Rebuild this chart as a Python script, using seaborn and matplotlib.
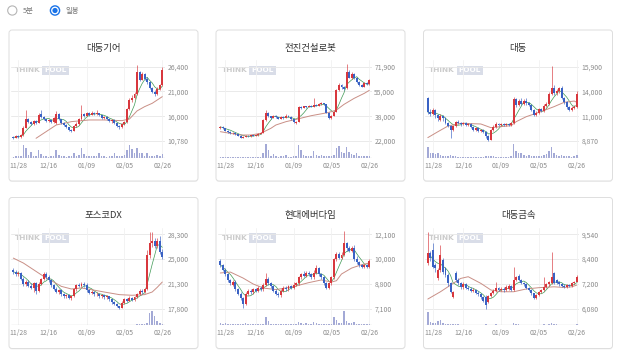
import numpy as np
import pandas as pd
import matplotlib
matplotlib.use("Agg")
import matplotlib.pyplot as plt
from matplotlib.patches import FancyBboxPatch, Circle
import seaborn as sns

sns.set_theme(style="white")
plt.rcParams['font.family'] = ['Noto Sans CJK KR', 'DejaVu Sans']

# ---------------- data ----------------
titles = ["대동기어", "전진건설로봇", "대동", "포스코DX", "현대에버다임", "대동금속"]
date_labels = ["11/28", "12/16", "01/09", "02/05", "02/26"]
date_pos = [2, 14, 29, 44, 59]

ylabels = [
    ["26,400", "21,000", "16,000", "10,780"],
    ["71,900", "55,000", "38,000", "22,000"],
    ["15,900", "14,000", "11,000", "8,870"],
    ["28,300", "25,000", "21,300", "17,800"],
    ["12,100", "10,000", "8,800", "7,100"],
    ["9,540", "8,400", "7,200", "6,080"],
]

# 대동기어
p1_open = [11700,11500,11800,11600,12000,13600,15300,14700,14300,14900,14600,16500,15900,15300,15000,15200,14700,14600,16500,15400,
           14600,14200,13700,13100,12900,13900,14400,15300,16500,16100,16600,16300,16700,16400,16600,16200,15700,15900,15300,14900,
           15200,14500,14000,13700,14300,14700,17500,19300,19800,20600,25300,23700,24800,23900,23200,22000,21100,20600,21800,22500]
p1_close = [11500,11800,11600,12000,13600,15300,14700,14300,14900,14600,16300,15900,15300,15000,15200,14700,15600,16500,15400,14600,
            14200,13700,13100,12900,13900,14400,15300,16500,16100,16600,16300,16700,16400,16600,16200,15700,15900,15300,14900,15200,
            14500,14000,13700,14300,14700,17500,19300,19800,20600,25300,23700,24800,23900,23200,22000,21100,20600,21800,22500,25800]
p1_high = [11900,12000,12000,12200,13900,17300,15600,15000,15100,15200,16600,17300,16000,15500,15400,15300,15800,17100,16600,15500,
           14800,14300,13800,13300,14100,14700,15600,18300,16700,16900,16800,17000,16900,17200,16700,16300,16100,16000,15400,15400,
           15300,14600,14100,14600,14900,17800,19800,20400,21000,26700,25500,25200,25000,24200,23400,22200,21400,22100,22800,26400]
p1_low = [11300,11400,11400,11500,11900,13500,14500,14100,14100,14400,14500,15700,15100,14800,14700,14500,14500,14400,15200,14400,
          14000,13500,12900,12600,12800,13700,14200,15100,15900,16000,16100,16200,16200,16200,16000,15500,15500,15100,14700,14600,
          14300,13800,13400,13500,14100,14600,17300,19000,19600,20400,23400,23500,23600,22800,21800,20800,20300,20500,21400,22300]
p1_vol = [.08,.1,.12,.1,.9,.65,.2,.4,.15,.12,.5,.25,.12,.1,.08,.1,.15,.5,.2,.12,
          .1,.08,.1,.12,.3,.15,.2,.7,.25,.12,.1,.12,.1,.15,.35,.12,.1,.08,.1,.12,
          .3,.15,.12,.1,.2,.5,.9,.6,.3,.7,.35,.3,.15,.3,.12,.1,.12,.2,.15,.25]
p1_ma_idx = [9,13,17,23,30,36,43,46,49,52,55,59]
p1_ma = [11350,12750,14150,14850,15200,15200,15060,15400,17100,18000,18700,20100]

# 전진건설로봇
p2_open = [30500,31500,30500,29000,28000,27200,27600,26500,25600,24300,24800,25500,25100,25800,25400,25800,26800,27500,36000,41000,
           38500,37600,38800,37800,37000,38200,37500,39000,38300,36500,34000,35000,45000,44200,45200,44800,45600,45000,46500,45800,
           46800,47500,46600,41000,37500,38800,41500,56000,59500,58000,57500,68500,64500,67000,64500,61500,59800,58500,60800,60000]
p2_close = [31500,30500,29000,28000,27200,27600,26500,25600,24300,24800,25500,25100,25800,25400,26200,26800,27500,36000,41000,38500,
            37600,38800,37800,37000,38200,37500,39000,38300,36500,34500,35000,45000,44200,45200,44800,45600,45000,46500,45800,46800,
            47500,46600,41000,37500,38800,41500,56000,59500,58000,57000,68500,64500,67000,64500,61500,59800,58500,60800,60000,62800]
p2_high = [32300,32000,30800,29300,28400,28000,27800,26800,25800,25200,25900,25800,26200,26100,26600,27400,28000,36800,42500,41500,
           39000,39500,39200,38200,38700,38600,39800,39400,38500,36800,35500,45800,45800,45800,45600,46200,46000,50600,47000,47300,
           48000,47800,46800,41300,39300,42000,57000,61000,60200,58800,73500,69500,68500,67500,65000,62200,60500,61500,61800,63500]
p2_low = [30000,30200,28600,27600,26800,26900,26100,25200,23900,23700,24500,24800,24900,25100,25200,25600,26500,27300,35500,38000,
          37000,37300,37400,36500,36800,37000,37200,37900,36000,34000,33500,34800,43800,43900,44300,44500,44600,44800,45400,45500,
          46300,46200,40500,37000,37000,38500,41200,55500,57200,56500,57000,64000,63800,63500,61000,59200,58000,58200,59500,59800]
p2_vol = [.06,.07,.05,.05,.06,.05,.04,.05,.06,.05,.05,.04,.05,.04,.05,.06,.08,.3,.95,.5,
          .15,.25,.1,.08,.15,.1,.2,.08,.07,.1,.15,.85,.55,.2,.12,.1,.15,.45,.2,.12,
          .2,.1,.15,.12,.1,.2,.7,.8,.4,.3,.75,.4,.25,.2,.3,.15,.12,.1,.15,.12]
p2_ma_idx = [0,4,8,12,16,20,22,26,30,36,41,43,46,49,53,57,59]
p2_ma = [28260,27140,26020,26020,27140,30500,32740,34980,36540,39000,40570,41240,42810,46610,50640,53990,56010]

# 대동
p3_open = [12900,11600,11400,11800,11300,10900,11200,11000,10600,10300,9900,10300,10700,10600,10500,10600,10400,10500,10200,9900,
           10100,9800,9900,9700,9300,9000,9900,10200,10500,10400,10500,10400,10500,10400,10600,12800,12300,12700,12400,12700,
           12500,12300,11800,11300,11500,11900,11700,12200,12400,13300,13900,13400,13600,13900,12900,12600,12100,11800,12000,12100]
p3_close = [11600,11400,11800,11300,11000,11200,11000,10600,10300,9900,10300,10700,10600,10500,10600,10400,10500,10200,9900,10100,
            9800,9900,9700,9300,9000,9900,10200,10500,10400,10500,10400,10500,10400,10600,12800,12300,12700,12400,12700,12500,
            12300,11800,11300,11500,11900,11700,12200,12400,13300,13900,13400,13600,13900,12900,12600,12100,11800,12000,12100,13300]
p3_high = [13000,11900,12000,11900,11400,11400,11300,11100,10700,10400,10400,10800,10900,10700,10700,10700,10600,10600,10300,10200,
           10200,10000,10000,9800,9400,10000,10400,10700,10600,10600,10600,10600,10600,10700,13000,12900,12800,12900,12800,12900,
           12600,12400,11900,11700,12000,12000,12400,12600,13500,16000,14200,13800,14000,14100,13000,12700,12200,12200,12300,13600]
p3_low = [11400,11200,11300,11000,10800,10800,10800,10500,10200,9200,9800,10200,10500,10300,10400,10300,10300,10100,9800,9800,
          9700,9700,9600,9200,8900,8950,9800,10100,10300,10300,10300,10300,10300,10300,10500,12100,12200,12300,12300,12300,
          12200,11700,11200,11200,11400,11600,11600,12100,12300,13200,13200,13200,13400,12800,12400,11900,11700,11700,11900,12000]
p3_vol = [.75,.35,.3,.25,.3,.2,.15,.12,.1,.2,.12,.1,.08,.07,.08,.07,.06,.07,.08,.06,
          .07,.06,.07,.1,.12,.15,.1,.08,.07,.06,.07,.06,.08,.1,.95,.45,.3,.35,.2,.15,
          .2,.15,.12,.1,.15,.1,.2,.25,.45,.75,.3,.2,.15,.2,.15,.12,.1,.08,.1,.2]
p3_ma_idx = [0,4,8,13,21,25,29,33,35,39,44,50,54,58,59]
p3_ma = [9190,9750,10290,10540,10480,10130,10230,10320,10700,11170,11580,12120,12530,12650,12530]

# 포스코DX
p4_open = [23200,23000,22700,22800,22000,21200,21600,21000,20700,21400,20300,21300,21900,22700,22300,21800,21100,20600,20200,20400,
           19800,19500,19700,19300,19500,20500,21100,21000,21300,21100,20400,20000,20200,19800,19900,19500,19700,19400,19500,19100,
           18700,18500,18100,17900,18600,19100,18900,19300,19000,19400,19800,20300,20100,20500,25300,27000,27300,26600,27400,25800]
p4_close = [23000,22700,22800,22000,21200,21600,21000,20700,21400,20300,21300,21900,22700,22300,21800,21100,20600,20200,20400,19800,
            19500,19700,19300,19500,20500,21100,21000,21300,21100,20400,20000,20200,19800,19900,19500,19700,19400,19500,19100,18700,
            18500,18100,17900,18600,19100,18900,19300,19000,19400,19800,20300,20100,20500,25300,27000,27300,26600,27400,25800,25100]
p4_high = [23500,23200,23100,22900,22200,21800,21800,21400,21600,21500,21500,22100,23000,22900,22500,21900,21300,20800,20600,20500,
           20000,19900,19800,19700,20700,21300,21400,21500,21600,21400,20500,20400,20300,20100,20000,19900,19800,19700,19600,19200,
           18800,18600,18200,18800,19300,19300,19500,19400,19600,20000,20500,20600,20700,26000,28600,28600,27700,27800,28000,26200]
p4_low = [22700,22400,22400,21800,21000,21000,20800,20500,20100,19900,20200,21100,21800,22000,21600,20900,20400,20000,19900,19600,
          19300,19300,19100,19000,19400,20300,20800,20800,20900,20200,19800,19800,19600,19600,19300,19300,19200,19200,18900,18500,
          18300,17950,17800,17850,18500,18700,18800,18800,18900,19300,19700,19900,20000,20400,25000,26500,26300,26300,25500,24800]
p4_vol = [.04,.03,.03,.04,.03,.03,.04,.03,.03,.04,.03,.03,.04,.03,.03,.03,.04,.03,.03,.03,
          .03,.04,.03,.03,.04,.03,.03,.03,.04,.03,.03,.03,.04,.03,.03,.03,.03,.04,.03,.03,
          .03,.04,.03,.04,.03,.03,.04,.03,.04,.05,.1,.06,.08,.15,.85,1.0,.6,.3,.15,.1]
p4_ma_idx = [0,4,8,12,16,19,23,27,31,36,42,47,52,55,57,59]
p4_ma = [24920,24220,23280,22340,21550,20930,20560,20700,20460,20130,19760,19670,19760,20130,20790,21540]

# 현대에버다임
p5_open = [10300,10050,9700,9400,9000,8700,8900,8400,8100,7800,7400,8100,8300,8200,8400,8300,8500,8400,8700,9100,
           8800,8600,8300,8100,8000,8300,8500,8400,8600,8500,8700,8800,9200,9400,9300,9500,9400,9200,9500,9800,
           9400,9200,8800,8500,8800,9200,10400,10800,10500,10700,11500,11200,11000,11200,10400,10200,10000,9900,10000,9900]
p5_close = [10050,9700,9400,9000,8800,8900,8400,8100,7800,7400,8100,8300,8200,8400,8300,8500,8400,8700,9100,8800,
            8600,8300,8100,8000,8300,8500,8400,8600,8500,8700,8800,9200,9400,9300,9500,9400,9200,9500,9800,9400,
            9200,8800,8500,8800,9200,10400,10800,10500,10700,11500,11200,11000,11200,10400,10200,10000,9900,10000,9900,10300]
p5_high = [10400,10100,9800,9500,9100,9000,9000,8500,8200,7900,8200,8400,8400,8500,8500,8600,8600,8800,9500,9200,
           8900,8700,8400,8200,8400,8600,8600,8700,8700,8900,8900,9300,9500,9600,9600,9600,9500,9700,10000,9900,
           9500,9300,8900,8900,9300,10500,10900,10900,10900,12300,11600,11300,11300,11400,10600,10300,10100,10100,10100,10400]
p5_low = [9900,9600,9300,8900,8700,8600,8300,8000,7700,7150,7350,8000,8100,8100,8200,8200,8300,8300,8600,8700,
          8500,8200,8000,7900,7900,8200,8300,8300,8400,8400,8600,8700,9100,9200,9200,9300,9100,9100,9400,9300,
          9100,8700,8400,8400,8700,9100,10300,10400,10400,10600,11000,10900,10900,10300,10100,9900,9800,9800,9800,9800]
p5_vol = [.12,.1,.12,.1,.08,.1,.08,.07,.08,.1,.15,.08,.06,.05,.06,.05,.07,.1,.55,.3,
          .1,.06,.05,.06,.08,.06,.05,.06,.05,.06,.08,.2,.12,.1,.15,.08,.07,.2,.15,.08,
          .06,.07,.1,.08,.1,.55,.35,.15,.12,1.0,.3,.15,.12,.2,.1,.08,.06,.1,.08,.07]
p5_ma_idx = [0,4,9,13,17,22,29,35,40,44,46,48,52,56,59]
p5_ma = [9490,9550,9150,8750,8480,8370,8570,8840,9020,8880,8970,9420,9820,10050,10160]

# 대동금속
p6_open = [8180,8650,8810,8100,7480,7870,8340,7950,7640,7250,6630,7720,7400,7250,7090,7200,7050,7000,6900,6960,
           6820,6750,6600,6630,6400,6650,6800,6900,7050,6950,7000,6950,7000,7150,6950,7400,7600,7400,7250,7200,
           7050,6950,6780,6550,6700,6860,6950,7100,7200,7250,7720,7400,7300,7200,7150,7100,7170,7120,7250,7330]
p6_close = [8650,8420,8030,7950,7870,8570,7790,7640,7250,6860,6860,7400,7250,7090,7200,7050,7000,6900,6960,6820,
            6750,6600,6450,6250,6650,6800,6900,7050,6950,7000,6920,7100,7150,6950,7400,7550,7400,7250,7200,7050,
            6950,6780,6550,6700,6860,6950,7100,7200,7330,7560,7250,7250,7200,7150,7100,7170,7120,7250,7330,7560]
p6_high = [9630,8750,9120,8200,7950,9040,8450,8000,7720,7330,6900,7830,7480,7330,7300,7280,7130,7080,7050,7010,
           6900,6800,6660,6700,6700,6860,6980,7300,7100,7080,7060,7170,7200,7180,8000,7600,7700,7450,7300,7250,
           7100,7000,6800,6750,6900,7000,7560,7250,7380,8730,7800,7450,7350,7250,7200,7220,7200,7300,7380,7640]
p6_low = [8100,8300,7950,7800,7400,7800,7700,7550,7150,6780,6550,7330,7170,7010,7010,6980,6920,6840,6840,6760,
          6680,6520,6380,6080,6350,6600,6750,6850,6880,6900,6870,6900,6950,6900,6900,7350,7350,7200,7150,7000,
          6900,6730,6500,6500,6650,6800,6900,7050,7150,7200,7200,7200,7150,7100,7050,7050,7080,7100,7200,7300]
p6_vol = [.9,.2,.15,.12,.3,.35,.15,.1,.08,.07,.06,.08,.05,.04,.04,.03,.04,.03,.04,.03,
          .03,.04,.03,.05,.04,.03,.04,.05,.03,.03,.03,.04,.03,.04,.15,.06,.05,.04,.03,.03,
          .03,.04,.03,.04,.03,.03,.05,.04,.05,.15,.08,.05,.04,.03,.04,.03,.04,.03,.04,.05]
p6_ma_idx = [0,5,9,13,16,21,25,29,34,39,44,50,54,57,59]
p6_ma = [6520,6860,7170,7480,7560,7250,6940,6860,6860,6990,7050,7090,7060,7090,7170]

panels = [
    (p1_open, p1_close, p1_high, p1_low, p1_vol, p1_ma_idx, p1_ma),
    (p2_open, p2_close, p2_high, p2_low, p2_vol, p2_ma_idx, p2_ma),
    (p3_open, p3_close, p3_high, p3_low, p3_vol, p3_ma_idx, p3_ma),
    (p4_open, p4_close, p4_high, p4_low, p4_vol, p4_ma_idx, p4_ma),
    (p5_open, p5_close, p5_high, p5_low, p5_vol, p5_ma_idx, p5_ma),
    (p6_open, p6_close, p6_high, p6_low, p6_vol, p6_ma_idx, p6_ma),
]

# ---------------- style ----------------
RED = '#d8373d'
BLUE = '#3a62c4'
VOLC = '#a3a9d6'
MA20C = '#c98f86'
MA5C = '#3f9a55'
TXT = '#8a8a8a'

W, H = 618, 352
fig = plt.figure(figsize=(W / 100, H / 100), dpi=100)
bg = fig.add_axes([0, 0, 1, 1])
bg.set_xlim(0, W)
bg.set_ylim(H, 0)
bg.axis('off')


def rect(x0, y0, x1, y1):
    return [x0 / W, 1 - y1 / H, (x1 - x0) / W, (y1 - y0) / H]


# radio buttons
bg.add_patch(Circle((12.3, 10.5), 4.6, fc='white', ec='#b5b5b5', lw=0.8))
bg.text(23, 10.8, "5분", fontsize=5.3, color='#777777', va='center', ha='left')
bg.add_patch(Circle((55, 10.5), 4.6, fc='white', ec='#1a73e8', lw=1.0))
bg.add_patch(Circle((55, 10.5), 2.6, fc='#1a73e8', ec='none'))
bg.text(65, 10.8, "일봉", fontsize=5.3, color='#777777', va='center', ha='left')

col_off = [0, 207, 414.5]
row_off = [0, 167.5]

for k, (op, cl, hi, lo, vol, ma_idx, ma_val) in enumerate(panels):
    r, c = divmod(k, 3)
    dx, dy = col_off[c], row_off[r]
    # card
    bg.add_patch(FancyBboxPatch((9 + dx, 31 + dy), 189, 151, boxstyle='round,pad=0,rounding_size=3',
                                fc='#f3f3f3', ec='none', zorder=0))
    bg.add_patch(FancyBboxPatch((9 + dx, 30 + dy), 189, 151, boxstyle='round,pad=0,rounding_size=3',
                                fc='white', ec='#dedede', lw=0.7, zorder=1))
    bg.text(103.5 + dx, 48.3 + dy, titles[k], fontsize=6.8, color='#333333', ha='center', va='center', zorder=2)

    ax_x0, ax_x1 = 10.8 + dx, 164.8 + dx
    # watermark
    bg.text(ax_x0 + 4, 70.5 + dy, "THINK", fontsize=5.3, fontweight='bold', color='#cccccc',
            family='DejaVu Sans', va='center', ha='left', zorder=2)
    bg.text(ax_x0 + 33.5, 70.5 + dy, "POOL", fontsize=5.3, fontweight='bold', color='white',
            family='DejaVu Sans', va='center', ha='left', zorder=2,
            bbox=dict(boxstyle='square,pad=0.25', fc='#d9dde8', ec='none'))

    labels = ylabels[k]
    top = float(labels[0].replace(',', ''))
    bot = float(labels[-1].replace(',', ''))
    tick_vals = np.linspace(top, bot, len(labels))
    a = (top - bot) / (141 - 66.7)

    ax = fig.add_axes(rect(ax_x0, 60 + dy, ax_x1, 142 + dy))
    ax.patch.set_alpha(0)
    ax.set_xlim(-1, 60)
    ax.set_ylim(bot - 1 * a, top + 6.7 * a)
    for v in tick_vals:
        ax.axhline(v, color='#e6e6e6', lw=0.6, zorder=0)
    for p in date_pos:
        ax.axvline(p, color='#f1f1f1', lw=0.6, zorder=0)

    op_a, cl_a, hi_a, lo_a = map(np.asarray, (op, cl, hi, lo))
    x = np.arange(len(op_a))
    up = cl_a >= op_a
    colors = np.where(up, RED, BLUE)
    # moving averages
    ma5 = pd.Series(cl_a).rolling(5, min_periods=1).mean()
    sns.lineplot(x=x, y=ma5.values, ax=ax, color=MA5C, lw=0.5, zorder=2)
    sns.lineplot(x=ma_idx, y=ma_val, ax=ax, color=MA20C, lw=0.7, zorder=2)
    ax.vlines(x, lo_a, hi_a, colors=colors, lw=0.45, zorder=3)
    body = np.maximum(np.abs(cl_a - op_a), (top - bot) * 0.008)
    ax.bar(x, body, bottom=np.minimum(op_a, cl_a), width=0.78, color=colors, lw=0, zorder=4)

    ax.yaxis.tick_right()
    ax.set_yticks(tick_vals)
    ax.set_yticklabels(labels, fontsize=4.9, color=TXT)
    ax.tick_params(axis='y', length=0, pad=1.8)
    ax.set_xticks([])
    ax.set_xlabel('')
    ax.set_ylabel('')
    for s in ax.spines.values():
        s.set_visible(False)
    ax.grid(False)

    # volume
    axv = fig.add_axes(rect(ax_x0, 142 + dy, ax_x1, 157.7 + dy))
    axv.patch.set_alpha(0)
    sns.barplot(x=x, y=np.asarray(vol), native_scale=True, color=VOLC, saturation=1,
                width=0.6, errorbar=None, ax=axv, zorder=2, linewidth=0)
    axv.set_xlim(-1, 60)
    axv.set_ylim(0, 1.08)
    for p in date_pos:
        axv.axvline(p, color='#f1f1f1', lw=0.6, zorder=0)
    axv.axhline(0, color='#cfcfcf', lw=0.9, zorder=3)
    axv.set_yticks([])
    axv.set_xticks(date_pos)
    axv.set_xticklabels(date_labels, fontsize=4.9, color=TXT)
    axv.tick_params(axis='x', length=0, pad=3)
    axv.set_xlabel('')
    axv.set_ylabel('')
    for s in axv.spines.values():
        s.set_visible(False)
    axv.grid(False)

fig.savefig('out.png', dpi=100)
